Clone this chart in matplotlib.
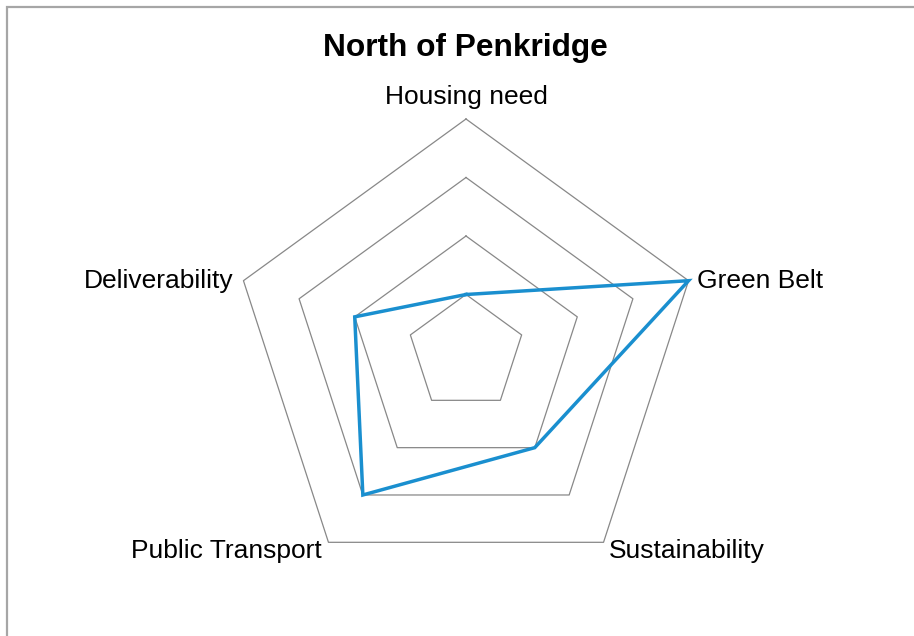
import matplotlib
matplotlib.use('agg')
import matplotlib.pyplot as plt
from matplotlib.patches import Rectangle
import numpy as np

title = 'North of Penkridge'
categories = ['Housing need', 'Green Belt', 'Sustainability', 'Public Transport', 'Deliverability']
values = [1, 4, 2, 3, 2]
levels = [1, 2, 3, 4]

plt.rcParams['font.family'] = ['Liberation Sans', 'DejaVu Sans']

W, H = 914, 636
fig = plt.figure(figsize=(W / 100, H / 100), dpi=100)

# chart border (right/bottom edges fall outside the picture)
fig.patches.append(Rectangle((6.5 / W, -0.05), 1.1, (H - 6.5) / H + 0.05,
                             transform=fig.transFigure, fill=False,
                             edgecolor='#a6a6a6', lw=1.6))

cx, cy, R = 466, 636 - 353, 234
ax = fig.add_axes([(cx - R) / W, (cy - R) / H, 2 * R / W, 2 * R / H], projection='polar')
ax.set_theta_offset(np.pi / 2)
ax.set_theta_direction(-1)
ax.set_ylim(0, 4)
ax.grid(False)
ax.set_xticks([])
ax.set_yticks([])
ax.spines['polar'].set_visible(False)
ax.patch.set_alpha(0)

n = len(categories)
theta = np.arange(n) * 2 * np.pi / n
tc = np.append(theta, theta[0])

for lv in levels:
    ax.plot(tc, [lv] * (n + 1), color='#888888', lw=0.9, clip_on=False)

vals = np.append(values, values[0])
ax.plot(tc, vals, color='#1a8fcf', lw=2.5, solid_joinstyle='miter', clip_on=False)

# label offsets in pixels from the outer vertex
offs = [(0, 15, 'center'), (8.5, -7, 'left'), (5.5, -16, 'left'),
        (-6.5, -16, 'right'), (-9.5, -7, 'right')]
for t, lab, (dx, dy, ha) in zip(theta, categories, offs):
    ax.annotate(lab, xy=(t, levels[-1]), xytext=(dx, dy), textcoords='offset pixels',
                ha=ha, va='baseline', fontsize=19, color='black', annotation_clip=False)

fig.text(465 / W, (H - 56) / H, title, ha='center', va='baseline',
         fontsize=22.8, fontweight='bold')

plt.savefig('out.png', dpi=100)
